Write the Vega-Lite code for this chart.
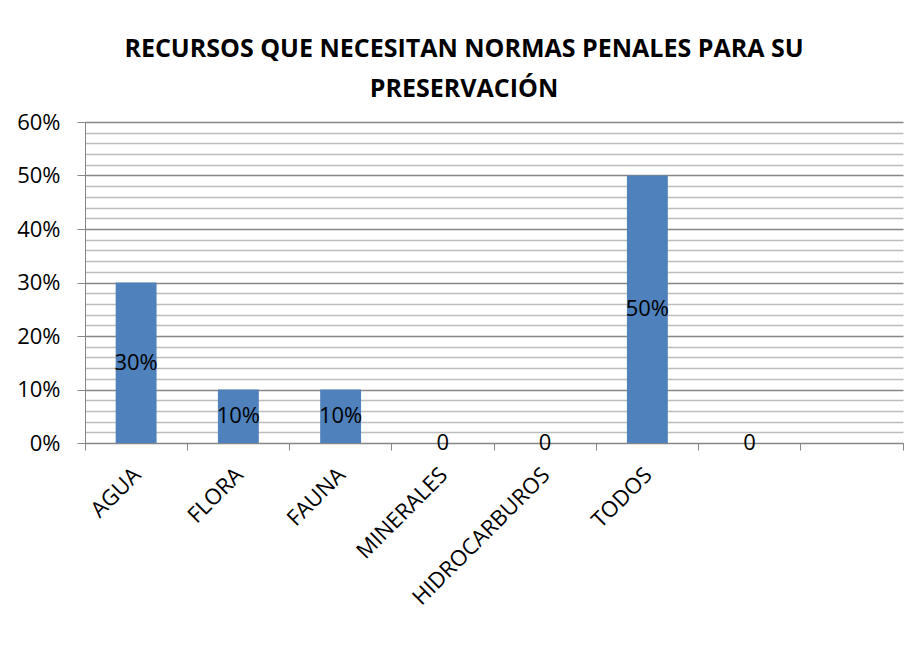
{
  "$schema": "https://vega.github.io/schema/vega-lite/v6.json",
  "width": 818,
  "height": 321,
  "autosize": {"type": "none"},
  "padding": {"left": 85, "top": 122, "right": 4, "bottom": 203},
  "background": "white",
  "title": {
    "text": ["RECURSOS QUE NECESITAN NORMAS PENALES PARA SU", "PRESERVACIÓN"],
    "font": "Open Sans",
    "fontSize": 25,
    "fontWeight": "bold",
    "color": "black",
    "anchor": "middle",
    "frame": "group",
    "dx": -30,
    "offset": 9,
    "lineHeight": 40
  },
  "data": {
    "values": [
      {"recurso": "AGUA", "pct": 0.30, "etiqueta": "30%"},
      {"recurso": "FLORA", "pct": 0.10, "etiqueta": "10%"},
      {"recurso": "FAUNA", "pct": 0.10, "etiqueta": "10%"},
      {"recurso": "MINERALES", "pct": 0, "etiqueta": "0"},
      {"recurso": "HIDROCARBUROS", "pct": 0, "etiqueta": "0"},
      {"recurso": "TODOS", "pct": 0.50, "etiqueta": "50%"},
      {"recurso": " ", "pct": 0, "etiqueta": "0"},
      {"recurso": "  ", "pct": null, "etiqueta": ""}
    ]
  },
  "config": {
    "view": {"stroke": null},
    "axis": {"labelFont": "Open Sans", "labelFontSize": 22, "labelColor": "black", "domainColor": "#868686", "tickColor": "#868686"}
  },
  "encoding": {
    "x": {
      "field": "recurso",
      "type": "nominal",
      "sort": null,
      "scale": {"paddingInner": 0, "paddingOuter": 0},
      "axis": {
        "title": null,
        "labelAngle": -45,
        "labelPadding": 14,
        "labelOffset": -6,
        "labelLimit": 0,
        "bandPosition": 1,
        "tickExtra": true,
        "tickSize": 7,
        "grid": false
      }
    }
  },
  "layer": [
    {
      "mark": {"type": "bar", "color": "#4F81BD", "width": {"band": 0.4}},
      "encoding": {
        "y": {
          "field": "pct",
          "type": "quantitative",
          "scale": {"domain": [0, 0.6]},
          "axis": {
            "title": null,
            "values": [0, 0.02, 0.04, 0.06, 0.08, 0.1, 0.12, 0.14, 0.16, 0.18, 0.2, 0.22, 0.24, 0.26, 0.28, 0.3, 0.32, 0.34, 0.36, 0.38, 0.4, 0.42, 0.44, 0.46, 0.48, 0.5, 0.52, 0.54, 0.56, 0.58, 0.6],
            "tickCount": 100,
            "format": ".0%",
            "labelExpr": "round(datum.value*100) % 10 == 0 ? datum.label : ''",
            "labelOverlap": false,
            "labelPadding": 17,
            "tickSize": 8,
            "tickOpacity": {"condition": {"test": "round(datum.value*100) % 10 == 0", "value": 1}, "value": 0},
            "grid": true,
            "gridColor": {"condition": {"test": "round(datum.value*100) % 10 == 0", "value": "#868686"}, "value": "#bdbdbd"},
            "gridWidth": 1.5
          }
        }
      }
    },
    {
      "transform": [{"calculate": "datum.pct / 2", "as": "mid"}],
      "mark": {"type": "text", "font": "Open Sans", "fontSize": 22, "color": "black", "align": "center", "baseline": "middle"},
      "encoding": {
        "y": {"field": "mid", "type": "quantitative"},
        "text": {"field": "etiqueta"}
      }
    }
  ]
}
